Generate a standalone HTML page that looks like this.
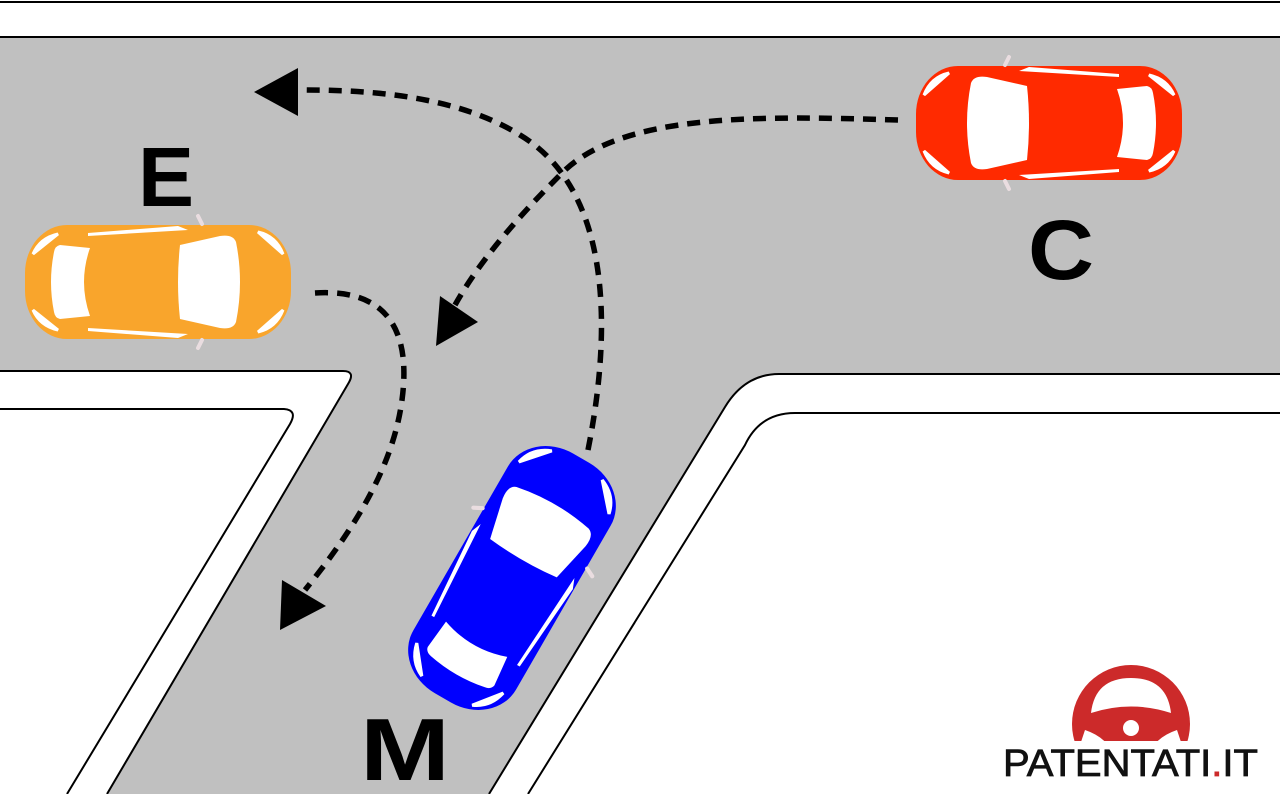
<!DOCTYPE html>
<html><head><meta charset="utf-8"><style>html,body{margin:0;padding:0;background:#fff}svg{display:block}</style></head>
<body>
<svg width="1280" height="794" viewBox="0 0 1280 794" xmlns="http://www.w3.org/2000/svg">
<defs>
<g id="car">
  <rect x="-133" y="-57" width="266" height="114" rx="42" ry="48" fill="var(--c)"/>
  <path d="M-78,-40 Q-86,0 -78,40 Q-75,48 -62,46 L-22,37 Q-18,0 -22,-37 L-62,-46 Q-75,-48 -78,-40Z" fill="#fff"/>
  <path d="M68,-34 Q80,0 68,34 L98,37 Q103,36 104,30 Q110,0 104,-30 Q103,-36 98,-37Z" fill="#fff"/>
  <path d="M-30,-52 L70,-46 L70,-49 L-20,-56Z" fill="#fff"/>
  <path d="M-30,52 L70,46 L70,49 L-20,56Z" fill="#fff"/>
  <path d="M-125,-28 Q-118,-46 -100,-50 Z M-125,28 Q-118,46 -100,50Z" fill="#fff" stroke="#fff" stroke-width="3"/>
  <path d="M125,-28 Q118,-44 100,-48 Z M125,28 Q118,44 100,48Z" fill="#fff" stroke="#fff" stroke-width="3"/>
  <path d="M-44,-58 L-40,-66 M-44,58 L-40,66" stroke="#eadde0" stroke-width="4" stroke-linecap="round"/>
</g>
</defs>
<rect width="1280" height="794" fill="#fff"/>
<path d="M0,37 H1280 V374 H779 Q745,374 725,407 L489,794 H107 L348,384 Q356,371 343,371 H0Z" fill="#c0c0c0"/>
<line x1="0" y1="2" x2="1280" y2="2" stroke="#000" stroke-width="2"/>
<line x1="0" y1="37" x2="1280" y2="37" stroke="#000" stroke-width="2"/>
<path d="M0,371 H343 Q356,371 348,384 L107,794" fill="none" stroke="#000" stroke-width="2"/>
<path d="M0,409 H284 Q298,410 290,424 L67,794" fill="none" stroke="#000" stroke-width="2"/>
<path d="M1280,374 H779 Q745,374 725,407 L489,794" fill="none" stroke="#000" stroke-width="2"/>
<path d="M1280,413 H795 Q760,413 745,445 L528,794" fill="none" stroke="#000" stroke-width="2"/>
<g fill="none" stroke="#000" stroke-width="5.5" stroke-dasharray="13,9">
  <path d="M588,450 C612,330 612,190 520,135 C460,98 380,90 305,90"/>
  <path d="M898,120 C760,116 620,112 560,175 C520,215 480,260 455,305"/>
  <path d="M315,293 C395,288 410,340 402,400 C392,475 345,540 305,590"/>
</g>
<polygon points="254,92 298,68 298,116" fill="#000"/>
<polygon points="436,346 440,296 478,322" fill="#000"/>
<polygon points="280,630 282,580 326,606" fill="#000"/>
<use href="#car" transform="translate(1049,123)" style="--c:#ff2a00"/>
<use href="#car" transform="translate(158,282) scale(-1,1)" style="--c:#f9a52c"/>
<use href="#car" transform="translate(512,578) rotate(120) scale(1.04)" style="--c:#0000ff"/>
<g font-family="Liberation Sans, sans-serif" font-weight="bold" fill="#000">
  <text x="138" y="206" font-size="84">E</text>
  <text x="1028" y="279" font-size="84" textLength="66" lengthAdjust="spacingAndGlyphs">C</text>
  <text x="360" y="780" font-size="88" textLength="90" lengthAdjust="spacingAndGlyphs">M</text>
</g>
<g>
  <clipPath id="lc"><rect x="1060" y="650" width="150" height="91"/></clipPath>
  <g clip-path="url(#lc)">
    <circle cx="1131" cy="724" r="59" fill="#cc2a2a"/>
    <path d="M1091,713 Q1095,678 1131,678 Q1167,678 1171,713 Q1131,700 1091,713Z" fill="#fff"/>
    <circle cx="1131" cy="728" r="8" fill="#fff"/>
    <path d="M1085,730 Q1100,735 1108,745 L1080,745Z M1177,730 Q1162,735 1154,745 L1182,745Z" fill="#fff"/>
  </g>
  <text x="1003" y="776" font-family="Liberation Sans, sans-serif" font-size="38" fill="#111" stroke="#111" stroke-width="0.8" textLength="255" lengthAdjust="spacingAndGlyphs">PATENTATI<tspan fill="#cc2a2a" stroke="#cc2a2a">.</tspan>IT</text>
</g>
</svg>
</body></html>
